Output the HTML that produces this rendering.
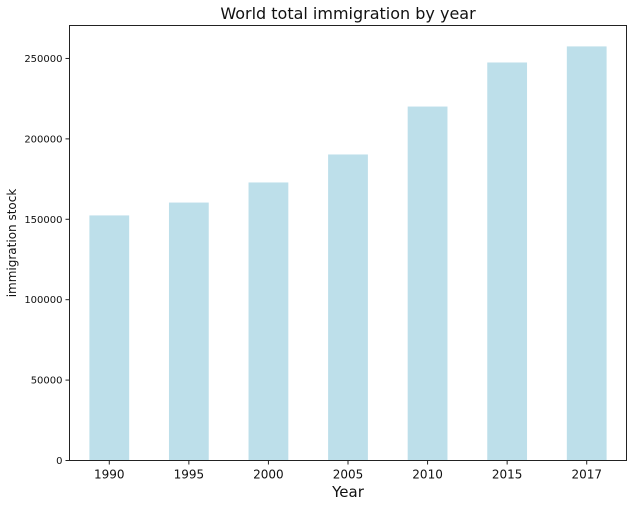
<!DOCTYPE html>
<html><head><meta charset="utf-8"><style>
body{margin:0;background:#fff;font-family:"DejaVu Sans","Liberation Sans",sans-serif}
</style></head><body>
<svg id="chart" width="637" height="506">
<text x="348" y="19" text-anchor="middle" font-size="16" fill="#111">World total immigration by year</text>
<text x="348" y="497" text-anchor="middle" font-size="15" fill="#111">Year</text>
<text transform="translate(16,243) rotate(-90)" text-anchor="middle" font-size="12" fill="#111">immigration stock</text>
<g id="bars"></g><g id="yt"></g><g id="xt"></g>
<rect x="69.5" y="25.5" width="557" height="435" fill="none" stroke="#222" stroke-width="1"/>
</svg>
<script>
const categories=["1990","1995","2000","2005","2010","2015","2017"];
const values=[152400,160400,172900,190300,220100,247500,257500];
const yTicks=[0,50000,100000,150000,200000,250000];
const yTickLabels=["0","50000","100000","150000","200000","250000"];
const NS="http://www.w3.org/2000/svg";
const L=69.5,R=626.5,T=25.5,B=460.5,YMAX=270500;
const y=v=>B-(v/YMAX)*(B-T);
const band=(R-L)/categories.length;
const x=i=>L+band*(i+0.5);
const bars=document.getElementById('bars'),yt=document.getElementById('yt'),xt=document.getElementById('xt');
categories.forEach((c,i)=>{
 const r=document.createElementNS(NS,'rect');
 r.setAttribute('x',x(i)-band*0.25);r.setAttribute('width',band*0.5);
 r.setAttribute('y',y(values[i]));r.setAttribute('height',B-y(values[i]));
 r.setAttribute('fill','#bddfea');
 
 
 bars.appendChild(r);
 const tk=document.createElementNS(NS,'line');
 tk.setAttribute('x1',x(i));tk.setAttribute('x2',x(i));tk.setAttribute('y1',B);tk.setAttribute('y2',B+4);tk.setAttribute('stroke','#222');
 
 
 xt.appendChild(tk);
 const t=document.createElementNS(NS,'text');
 t.setAttribute('x',x(i));t.setAttribute('y',B+18);t.setAttribute('text-anchor','middle');t.setAttribute('font-size','12');t.setAttribute('fill','#111');
 t.textContent=c;
 
 
 xt.appendChild(t);
});
yTicks.forEach((v,i)=>{
 const tk=document.createElementNS(NS,'line');
 tk.setAttribute('x1',L-4);tk.setAttribute('x2',L);tk.setAttribute('y1',y(v));tk.setAttribute('y2',y(v));tk.setAttribute('stroke','#222');
 
 
 yt.appendChild(tk);
 const t=document.createElementNS(NS,'text');
 t.setAttribute('x',L-7);t.setAttribute('y',y(v)+3.5);t.setAttribute('text-anchor','end');t.setAttribute('font-size','10');t.setAttribute('fill','#111');
 t.textContent=yTickLabels[i];
 
 
 yt.appendChild(t);
});
</script>
</body></html>
